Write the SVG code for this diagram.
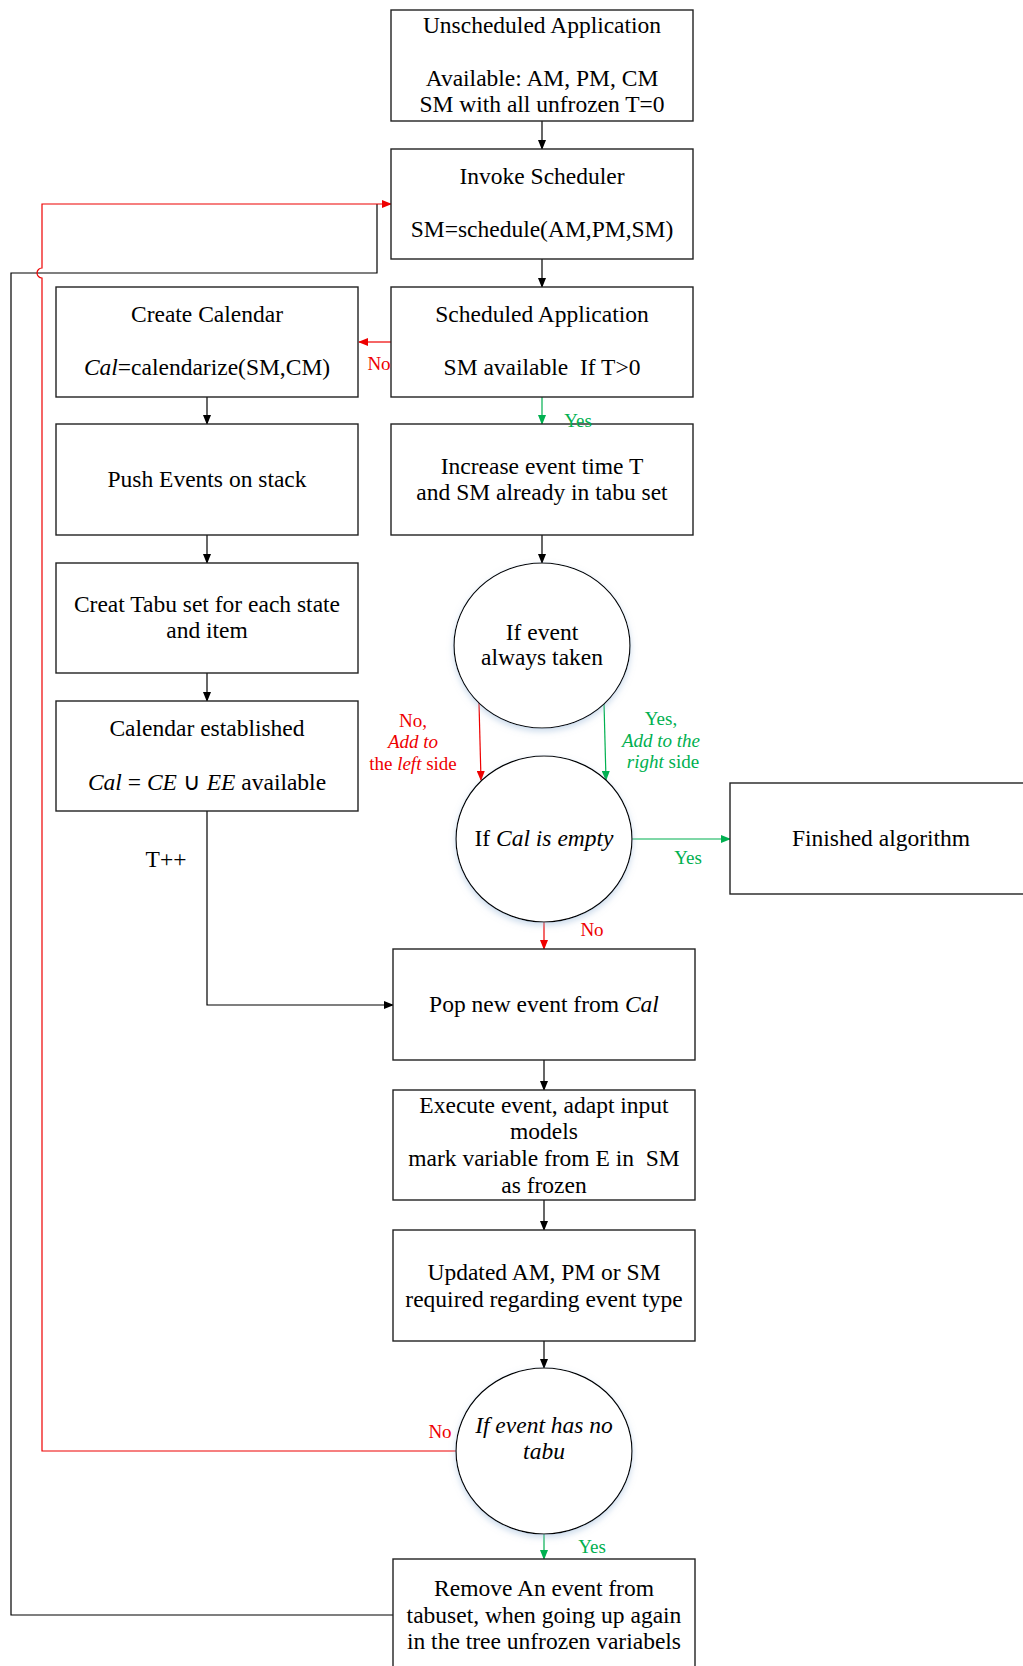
<svg xmlns="http://www.w3.org/2000/svg" width="1023" height="1666" viewBox="0 0 1023 1666">
<defs>
<marker id="ab" markerWidth="10" markerHeight="8" refX="9" refY="4" orient="auto" markerUnits="userSpaceOnUse"><path d="M0,0 L10,4 L0,8 Z" fill="#000"/></marker>
<marker id="ar" markerWidth="10" markerHeight="8" refX="9" refY="4" orient="auto" markerUnits="userSpaceOnUse"><path d="M0,0 L10,4 L0,8 Z" fill="#e00"/></marker>
<marker id="ag" markerWidth="10" markerHeight="8" refX="9" refY="4" orient="auto" markerUnits="userSpaceOnUse"><path d="M0,0 L10,4 L0,8 Z" fill="#00b050"/></marker>
<filter id="sh" x="-20%" y="-20%" width="140%" height="140%"><feDropShadow dx="0" dy="3" stdDeviation="3" flood-color="#9ab8d8" flood-opacity="0.5"/></filter>
</defs>
<style>
text{font-family:"Liberation Serif","Times New Roman",serif;font-size:23.5px;fill:#000;text-anchor:middle}
.box{fill:#fff;stroke:#222;stroke-width:1.4}
.dec{fill:#fff;stroke:#000;stroke-width:1.2;filter:url(#sh)}
.c{fill:none;stroke:#000;stroke-width:1.2}
.r{fill:none;stroke:#e00;stroke-width:1.2}
.g{fill:none;stroke:#00b050;stroke-width:1.2}
.lr{fill:#e00;font-size:19px}
.lg{fill:#00b050;font-size:19px}
.i{font-style:italic}
</style>
<rect width="1023" height="1666" fill="#fff"/>
<g id="connectors">
<line class="c" x1="542" y1="121" x2="542" y2="149" marker-end="url(#ab)"/>
<line class="c" x1="542" y1="259" x2="542" y2="287" marker-end="url(#ab)"/>
<line class="r" x1="391" y1="342" x2="359" y2="342" marker-end="url(#ar)"/>
<line class="g" x1="542" y1="397" x2="542" y2="424" marker-end="url(#ag)"/>
<line class="c" x1="207" y1="397" x2="207" y2="424" marker-end="url(#ab)"/>
<line class="c" x1="207" y1="535" x2="207" y2="563" marker-end="url(#ab)"/>
<line class="c" x1="207" y1="673" x2="207" y2="701" marker-end="url(#ab)"/>
<line class="c" x1="542" y1="535" x2="542" y2="563" marker-end="url(#ab)"/>
<line class="r" x1="479" y1="703" x2="481" y2="780" marker-end="url(#ar)"/>
<line class="g" x1="604" y1="703" x2="606" y2="780" marker-end="url(#ag)"/>
<line class="g" x1="632" y1="839" x2="730" y2="839" marker-end="url(#ag)"/>
<line class="r" x1="544" y1="922" x2="544" y2="949" marker-end="url(#ar)"/>
<polyline class="c" points="207,811 207,1005 393,1005" marker-end="url(#ab)"/>
<line class="c" x1="544" y1="1060" x2="544" y2="1090" marker-end="url(#ab)"/>
<line class="c" x1="544" y1="1200" x2="544" y2="1230" marker-end="url(#ab)"/>
<line class="c" x1="544" y1="1341" x2="544" y2="1368" marker-end="url(#ab)"/>
<line class="g" x1="544" y1="1534" x2="544" y2="1559" marker-end="url(#ag)"/>
<polyline class="c" points="393,1615 11,1615 11,273 377,273 377,204"/>
<path class="r" d="M456,1451 H42 V278 A5,5 0 0 1 42,268 V204 H391" marker-end="url(#ar)"/>
</g>
<g id="n1"><rect class="box" x="391" y="10" width="302" height="111"/>
<text x="542" y="33">Unscheduled Application</text><text x="542" y="86">Available: AM, PM, CM</text><text x="542" y="112">SM with all unfrozen T=0</text></g>
<g id="n2"><rect class="box" x="391" y="149" width="302" height="110"/>
<text x="542" y="184">Invoke Scheduler</text><text x="542" y="237">SM=schedule(AM,PM,SM)</text></g>
<g id="n3"><rect class="box" x="391" y="287" width="302" height="110"/>
<text x="542" y="322">Scheduled Application</text><text x="542" y="375" xml:space="preserve">SM available  If T&gt;0</text></g>
<g id="n4"><rect class="box" x="56" y="287" width="302" height="110"/>
<text x="207" y="322">Create Calendar</text><text x="207" y="375"><tspan class="i">Cal</tspan>=calendarize(SM,CM)</text></g>
<g id="n5"><rect class="box" x="56" y="424" width="302" height="111"/>
<text x="207" y="487">Push Events on stack</text></g>
<g id="n6"><rect class="box" x="391" y="424" width="302" height="111"/>
<text x="542" y="474">Increase event time T</text><text x="542" y="500">and SM already in tabu set</text></g>
<g id="n7"><rect class="box" x="56" y="563" width="302" height="110"/>
<text x="207" y="612">Creat Tabu set for each state</text><text x="207" y="638">and item</text></g>
<g id="n8"><rect class="box" x="56" y="701" width="302" height="110"/>
<text x="207" y="736">Calendar established</text><text x="207" y="790"><tspan class="i">Cal</tspan> = <tspan class="i">CE</tspan> ∪ <tspan class="i">EE</tspan> available</text></g>
<g id="n9"><ellipse class="dec" cx="542" cy="645.5" rx="88" ry="82.5"/>
<text x="542" y="640">If event</text><text x="542" y="665">always taken</text></g>
<g id="n10"><ellipse class="dec" cx="544" cy="839" rx="88" ry="83"/>
<text x="544" y="846">If <tspan class="i">Cal is empty</tspan></text></g>
<g id="n11"><rect class="box" x="730" y="783" width="310" height="111"/>
<text x="881" y="846">Finished algorithm</text></g>
<g id="n12"><rect class="box" x="393" y="949" width="302" height="111"/>
<text x="544" y="1012">Pop new event from <tspan class="i">Cal</tspan></text></g>
<g id="n13"><rect class="box" x="393" y="1090" width="302" height="110"/>
<text x="544" y="1113">Execute event, adapt input</text><text x="544" y="1139">models</text><text x="544" y="1166" xml:space="preserve">mark variable from E in  SM</text><text x="544" y="1193">as frozen</text></g>
<g id="n14"><rect class="box" x="393" y="1230" width="302" height="111"/>
<text x="544" y="1280">Updated AM, PM or SM</text><text x="544" y="1307">required regarding event type</text></g>
<g id="n15"><ellipse class="dec" cx="544" cy="1451" rx="88" ry="83"/>
<text x="544" y="1433" class="i">If event has no</text><text x="544" y="1459" class="i">tabu</text></g>
<g id="n16"><rect class="box" x="393" y="1559" width="302" height="120"/>
<text x="544" y="1596">Remove An event from</text><text x="544" y="1623">tabuset, when going up again</text><text x="544" y="1649">in the tree unfrozen variabels</text></g>
<g id="labels">
<text class="lr" x="379" y="370">No</text>
<text class="lg" x="578" y="427">Yes</text>
<text class="lr" x="413" y="727">No,</text>
<text class="lr i" x="413" y="748">Add to</text>
<text class="lr" x="413" y="770">the <tspan class="i">left</tspan> side</text>
<text class="lg" x="661" y="725">Yes,</text>
<text class="lg i" x="661" y="747">Add to the</text>
<text class="lg" x="663" y="768"><tspan class="i">right</tspan> side</text>
<text class="lg" x="688" y="864">Yes</text>
<text x="166" y="867">T++</text>
<text class="lr" x="592" y="936">No</text>
<text class="lr" x="440" y="1438">No</text>
<text class="lg" x="592" y="1553">Yes</text>
</g>
</svg>
